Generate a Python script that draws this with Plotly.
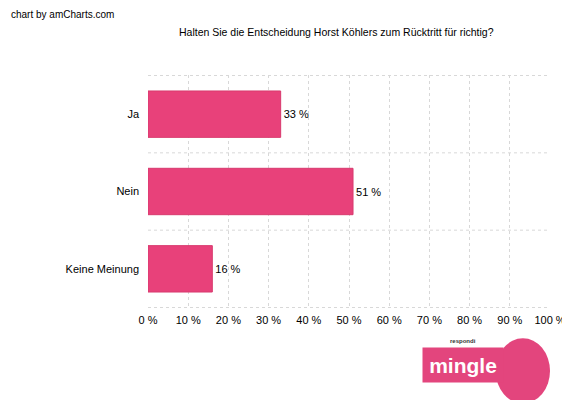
import plotly.graph_objects as go

categories = ["Ja", "Nein", "Keine Meinung"]
values = [33, 51, 16]
tick_vals = list(range(0, 101, 10))
tick_text = [f"{v} %" for v in tick_vals]

pink = "#E8417A"
logo_pink = "#E3457D"

fig = go.Figure()
fig.add_bar(
    y=categories, x=values, orientation="h",
    marker=dict(color=pink, line=dict(color="#D83A6E", width=1)),
    width=0.6,
    text=[f"{v} %" for v in values], textposition="outside",
    textfont=dict(size=11, color="#000000"),
    cliponaxis=False,
)

fig.update_layout(
    width=570, height=400,
    margin=dict(l=140, r=23, t=67, b=100),
    paper_bgcolor="white", plot_bgcolor="white",
    font=dict(family="Arial, Liberation Sans, sans-serif", size=11, color="#000000"),
    showlegend=False,
)
fig.update_xaxes(
    range=[0, 100], tickvals=tick_vals, ticktext=tick_text,
    showgrid=True, gridcolor="#D8D8D8", griddash="dot",
    zeroline=False, showline=False, ticks="", ticklabelstandoff=4,
)
fig.update_yaxes(
    autorange="reversed", showgrid=False, zeroline=False,
    ticks="", ticklabelstandoff=8,
)
for yb in [-0.5, 0.5, 1.5, 2.5]:
    fig.add_shape(type="line", xref="x", yref="y", x0=0, x1=100, y0=yb, y1=yb,
                  line=dict(color="#D8D8D8", width=1, dash="dot"), layer="below")

fig.add_annotation(text="chart by amCharts.com", x=-0.345, y=1.29, xref="paper", yref="paper",
                   xanchor="left", yanchor="top", showarrow=False, font=dict(size=10))
fig.add_annotation(text="Halten Sie die Entscheidung Horst Köhlers zum Rücktritt für richtig?",
                   xref="paper", yref="paper", x=0.47, y=1.22,
                   xanchor="center", yanchor="top", showarrow=False, font=dict(size=10.5))

# logo blob
fig.add_shape(type="circle", xref="paper", yref="paper",
              x0=0.865, x1=1.0, y0=-0.41, y1=-0.13,
              fillcolor=logo_pink, line=dict(width=0))
fig.add_annotation(text="<b>mingle</b>", xref="paper", yref="paper",
                   x=0.885, y=-0.32, showarrow=False, bgcolor=logo_pink,
                   width=80, height=34, borderpad=0,
                   font=dict(size=21, color="white"))
fig.add_annotation(text="<b>respondi</b>", xref="paper", yref="paper",
                   x=0.82, y=-0.165, showarrow=False,
                   font=dict(size=6, color="#333333"))

fig.write_html("out.html")
